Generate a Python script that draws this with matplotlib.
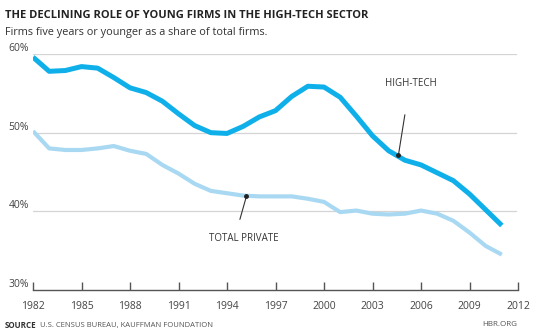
import matplotlib.pyplot as plt

years = list(range(1982, 2012))
high_tech = [59.6, 57.8, 57.9, 58.4, 58.2, 57.0, 55.7, 55.1, 54.0, 52.4,
             50.9, 50.0, 49.9, 50.8, 52.0, 52.8, 54.6, 55.9, 55.8, 54.5,
             52.1, 49.6, 47.7, 46.5, 45.9, 44.9, 43.9, 42.2, 40.2, 38.2]
total_private = [50.2, 48.0, 47.8, 47.8, 48.0, 48.3, 47.7, 47.3, 45.9, 44.8,
                 43.5, 42.6, 42.3, 42.0, 41.9, 41.9, 41.9, 41.6, 41.2, 39.9,
                 40.1, 39.7, 39.6, 39.7, 40.1, 39.7, 38.8, 37.3, 35.6, 34.5]
xticks = list(range(1982, 2013, 3))
yticks = [30, 40, 50, 60]

plt.rcParams['font.family'] = ['Open Sans', 'DejaVu Sans']

W, H = 538, 331
fig = plt.figure(figsize=(W / 100, H / 100), dpi=100)
ax = fig.add_axes([33 / W, (H - 290) / H, (518 - 33) / W, (290 - 54) / H])

for y in yticks[1:]:
    ax.axhline(y, xmax=0.995, color='#d4d4d4', lw=0.9, zorder=1)

ax.plot(years, total_private, color='#a9d9f2', lw=3.0, solid_capstyle='butt', zorder=3)
ax.plot(years, high_tech, color='#0fb0ea', lw=3.6, solid_capstyle='butt', zorder=4)

ax.set_xlim(1982, 2012)
ax.set_ylim(30, 60)
for s in ['top', 'right', 'left']:
    ax.spines[s].set_visible(False)
ax.spines['bottom'].set_color('#555555')
ax.spines['bottom'].set_linewidth(1.0)
ax.set_xticks(xticks)
ax.set_xticklabels([str(x) for x in xticks], fontsize=7.5, color='#444444')
ax.tick_params(axis='x', direction='in', length=6, width=1, color='#555555', pad=8)
ax.set_yticks(yticks)
ax.set_yticklabels(['%d%%' % y for y in yticks], fontsize=7.5, color='#444444')
ax.tick_params(axis='y', length=0, pad=3)
for lbl in ax.get_yticklabels():
    lbl.set_verticalalignment('bottom')

# annotations
ax.plot([2005.0, 2004.6], [52.25, 47.1], color='#333333', lw=0.8, zorder=5)
ax.plot([2004.6], [47.1], 'o', color='#222222', ms=2.5, zorder=5)
ax.text(2005.4, 56.3, 'HIGH-TECH', fontsize=7, color='#333333',
        ha='center', va='center')
ax.plot([1995.2, 1994.8], [41.9, 39.0], color='#333333', lw=0.8, zorder=5)
ax.plot([1995.2], [41.9], 'o', color='#222222', ms=2.5, zorder=5)
ax.text(1992.9, 36.5, 'TOTAL PRIVATE', fontsize=7, color='#333333',
        ha='left', va='center')

fig.text(5 / W, 1 - 15 / H, 'THE DECLINING ROLE OF YOUNG FIRMS IN THE HIGH-TECH SECTOR',
         fontsize=8, fontweight='bold', color='#222222', va='center')
fig.text(5 / W, 1 - 32 / H, 'Firms five years or younger as a share of total firms.',
         fontsize=7.8, color='#333333', va='center')
fig.text(5 / W, 1 - 325 / H, 'SOURCE', fontsize=5.8, fontweight='bold',
         color='#333333', va='center')
fig.text(40 / W, 1 - 325 / H, 'U.S. CENSUS BUREAU, KAUFFMAN FOUNDATION',
         fontsize=5.5, color='#555555', va='center')
fig.text(517 / W, 1 - 325 / H, 'HBR.ORG', fontsize=5.8, color='#555555',
         va='center', ha='right')

fig.savefig('out.png', dpi=100)
